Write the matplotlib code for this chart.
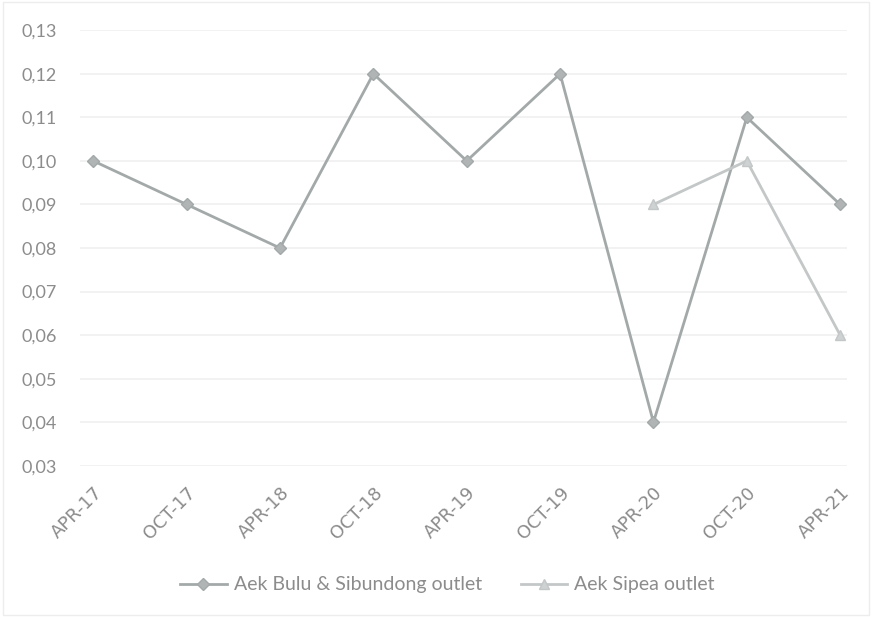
import numpy as np
import matplotlib
matplotlib.use("Agg")
import matplotlib.pyplot as plt
from matplotlib.patches import Rectangle

# Sampling periods and measured concentrations
periods = ["APR-17", "OCT-17", "APR-18", "OCT-18", "APR-19",
           "OCT-19", "APR-20", "OCT-20", "APR-21"]
aek_bulu = [0.10, 0.09, 0.08, 0.12, 0.10, 0.12, 0.04, 0.11, 0.09]
aek_sipea = [np.nan, np.nan, np.nan, np.nan, np.nan, np.nan, 0.09, 0.10, 0.06]
y_ticks = [0.03, 0.04, 0.05, 0.06, 0.07, 0.08, 0.09, 0.10, 0.11, 0.12, 0.13]

plt.rcParams['font.family'] = ['Lato', 'DejaVu Sans']
text_grey = "#8c8c8c"

fig = plt.figure(figsize=(8.72, 6.17), dpi=100)
ax = fig.add_axes([0.092, 0.245, 0.879, 0.706])

x = np.arange(len(periods))
ax.plot(x, aek_bulu, color="#a3a9a9", lw=2.0, marker="D", ms=6.5,
        mfc="#b0b4b4", mec="#a3a9a9", label="Aek Bulu & Sibundong outlet", zorder=3)
ax.plot(x, aek_sipea, color="#c3c7c7", lw=2.0, marker="^", ms=7.5,
        mfc="#cfd2d2", mec="#c3c7c7", label="Aek Sipea outlet", zorder=3)

ax.set_ylim(0.03, 0.13)
ax.set_xlim(-0.14, 8.07)
ax.set_yticks(y_ticks)
ax.set_yticklabels([f"{v:.2f}".replace(".", ",") for v in y_ticks])
ax.yaxis.grid(True, color="#f0f0f0", lw=1.2)
ax.set_axisbelow(True)
for s in ax.spines.values():
    s.set_visible(False)
ax.tick_params(axis="y", length=0, colors=text_grey, labelsize=13, pad=17)

ax.set_xticks(x)
ax.set_xticklabels(periods, rotation=45, ha="right", va="top",
                   rotation_mode="anchor", color=text_grey)
for lbl in ax.get_xticklabels():
    lbl.set_fontfamily("DejaVu Sans")
    lbl.set_fontsize(13)
ax.tick_params(axis="x", length=0, pad=13)

leg = fig.legend(loc="center", bbox_to_anchor=(0.513, 0.052), ncol=2, frameon=False,
                 prop={"size": 14}, handlelength=2.4, handletextpad=0.35,
                 columnspacing=2.0, labelcolor=text_grey)

# light outer frame
fig.patches.append(Rectangle((0.004, 0.004), 0.992, 0.992, transform=fig.transFigure,
                             fill=False, ec="#ededed", lw=1.0))

fig.savefig("out.png", dpi=100, facecolor="white")
